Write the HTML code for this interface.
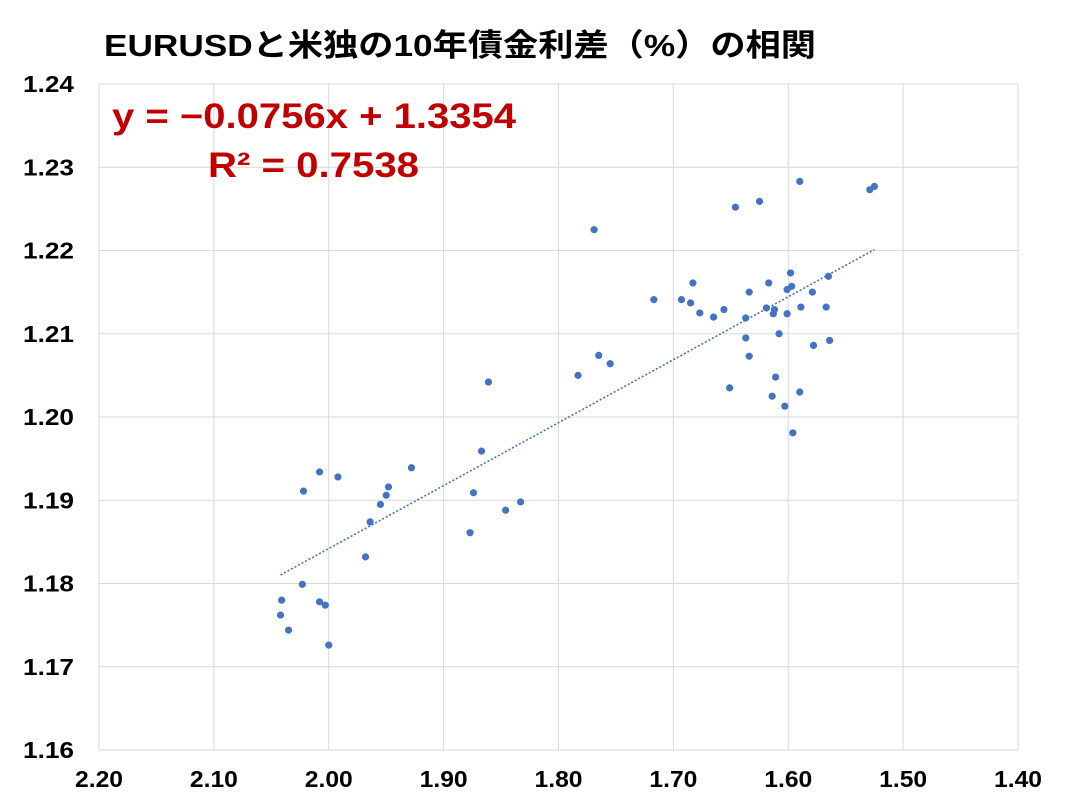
<!DOCTYPE html>
<html><head><meta charset="utf-8"><style>
body{margin:0;background:#fff;width:1083px;height:807px;overflow:hidden}
svg text{font-family:"Liberation Sans","Noto Sans CJK JP",sans-serif;font-weight:bold}
</style></head><body>
<svg id="chart" width="1083" height="807" xmlns="http://www.w3.org/2000/svg">
<text x="104" y="56" font-size="31" fill="#000" textLength="712" lengthAdjust="spacingAndGlyphs">EURUSDと米独の10年債金利差（%）の相関</text>
<g id="grid"></g><g id="ticks"></g><g id="trend"></g><g id="pts"></g>
<text x="112" y="128" font-size="35" fill="#c00000" textLength="404" lengthAdjust="spacingAndGlyphs">y = −0.0756x + 1.3354</text>
<text x="208" y="177" font-size="35" fill="#c00000" textLength="211" lengthAdjust="spacingAndGlyphs">R² = 0.7538</text>
</svg>
<script>
const xVals=[2.042,2.041,2.035,2.023,2.022,2.008,2.008,2.003,2.000,1.992,1.968,1.964,1.955,1.950,1.948,1.928,1.877,1.874,1.867,1.861,1.846,1.833,1.783,1.769,1.765,1.755,1.717,1.693,1.685,1.683,1.677,1.665,1.656,1.651,1.646,1.637,1.637,1.634,1.634,1.625,1.619,1.617,1.614,1.613,1.612,1.611,1.608,1.603,1.601,1.601,1.598,1.597,1.596,1.590,1.590,1.589,1.579,1.578,1.567,1.565,1.564,1.529,1.525];
const yVals=[1.1762,1.1780,1.1744,1.1799,1.1911,1.1934,1.1778,1.1774,1.1726,1.1928,1.1832,1.1874,1.1895,1.1906,1.1916,1.1939,1.1861,1.1909,1.1959,1.2042,1.1888,1.1898,1.2050,1.2225,1.2074,1.2064,1.2141,1.2141,1.2137,1.2161,1.2125,1.2120,1.2129,1.2035,1.2252,1.2095,1.2119,1.2150,1.2073,1.2259,1.2131,1.2161,1.2025,1.2124,1.2129,1.2048,1.2100,1.2013,1.2153,1.2124,1.2173,1.2157,1.1981,1.2283,1.2030,1.2132,1.2150,1.2086,1.2132,1.2169,1.2092,1.2273,1.2277];
const xTicks=["2.20","2.10","2.00","1.90","1.80","1.70","1.60","1.50","1.40"];
const yTicks=["1.16","1.17","1.18","1.19","1.20","1.21","1.22","1.23","1.24"];
const trendSlope=-0.0756, trendIntercept=1.3354;
const L=99,R=1018,T=84,B=750,X0=2.2,X1=1.4,Y0=1.16,Y1=1.24;
const sx=v=>L+(X0-v)/(X0-X1)*(R-L), sy=v=>B-(v-Y0)/(Y1-Y0)*(B-T);
const NS="http://www.w3.org/2000/svg";
function mk(t,a,p){const e=document.createElementNS(NS,t);for(const k in a)e.setAttribute(k,a[k]);p.appendChild(e);return e;}
const g=document.getElementById('grid'),tk=document.getElementById('ticks');
xTicks.forEach(t=>{const x=sx(+t);const l=mk('line',{x1:x,x2:x,y1:T,y2:B,stroke:'#d9d9d9','stroke-width':1},g);

const s=mk('text',{x:x-24,y:787,'font-size':23,fill:'#000',textLength:48,lengthAdjust:'spacingAndGlyphs'},tk);s.textContent=t;
});
yTicks.forEach(t=>{const y=sy(+t);const l=mk('line',{x1:L,x2:R,y1:y,y2:y,stroke:'#d9d9d9','stroke-width':1},g);

const s=mk('text',{x:23,y:y+8,'font-size':23,fill:'#000',textLength:51,lengthAdjust:'spacingAndGlyphs'},tk);s.textContent=t;
});
const xmax=Math.max(...xVals),xmin=Math.min(...xVals);
const tl=mk('line',{x1:sx(xmax),y1:sy(trendSlope*xmax+trendIntercept),x2:sx(xmin),y2:sy(trendSlope*xmin+trendIntercept),stroke:'#4472c4','stroke-width':1.6,'stroke-dasharray':'2 2'},document.getElementById('trend'));

const pg=document.getElementById('pts');
xVals.forEach((v,i)=>{const c=mk('circle',{cx:sx(v),cy:sy(yVals[i]),r:3.6,fill:'#4472c4'},pg);
});
</script>
</body></html>
